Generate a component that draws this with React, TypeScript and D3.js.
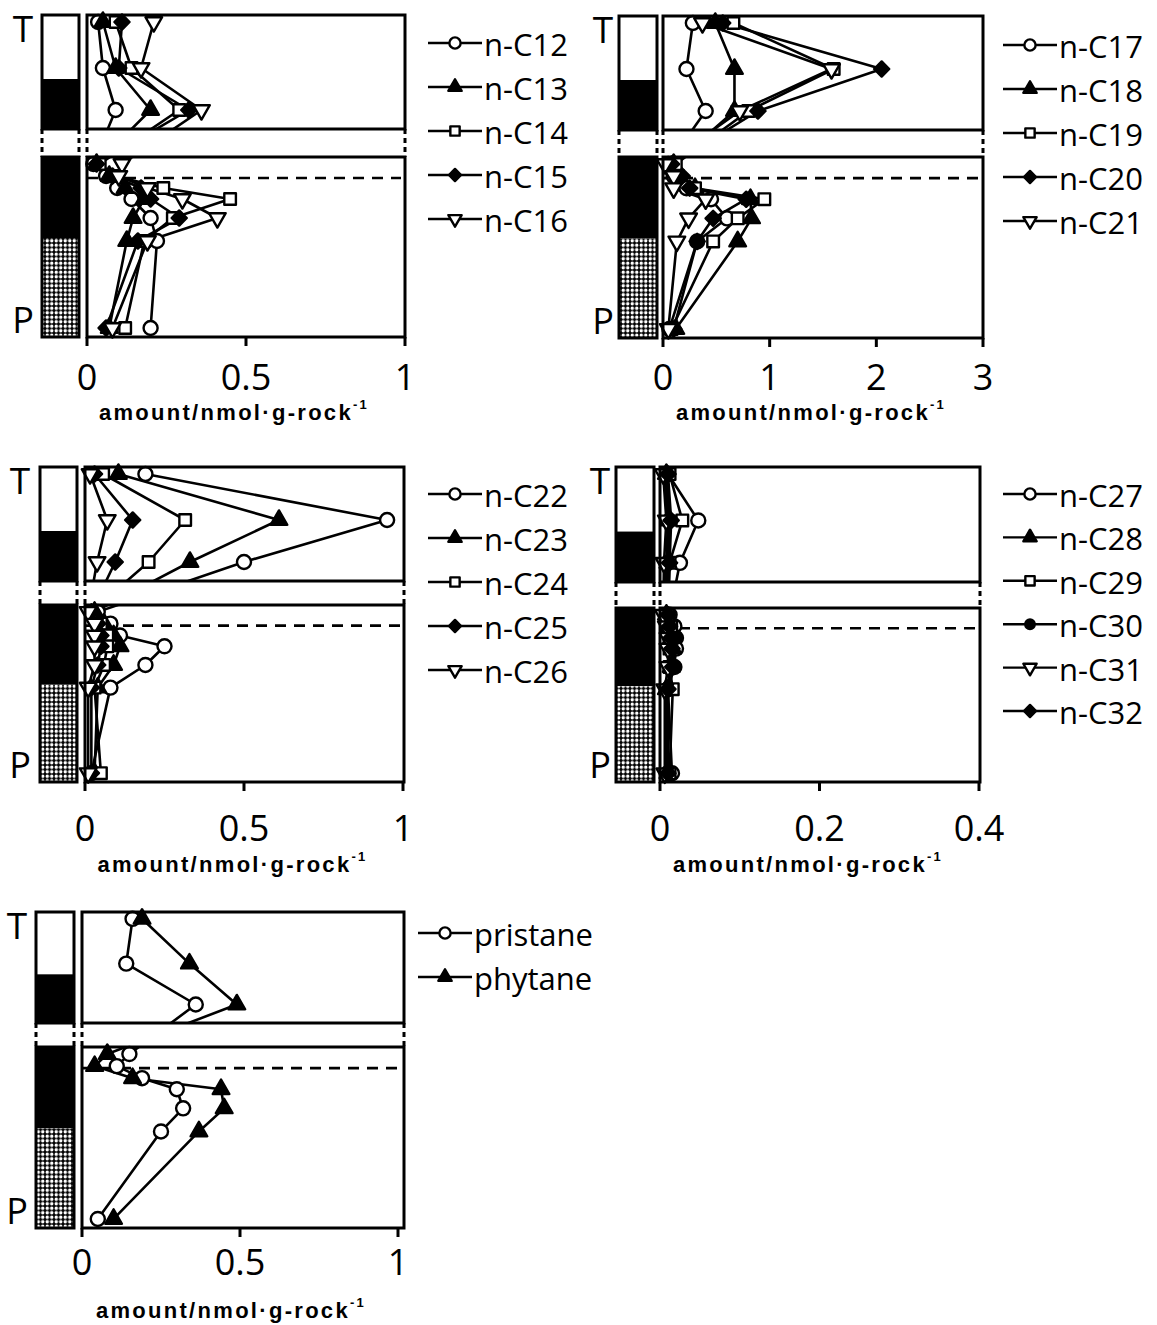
import React from "react";
import * as d3 from "d3";

type Marker = "circle" | "triangle" | "square" | "diamond" | "triangleDown" | "dot";

// Sample positions along the section (upper T interval 0–114, lower P interval 140–320)
const samplePos = [7, 53, 95, 147, 159, 171, 182, 201, 224, 311];
const sectionStops = [0, 114, 140, 320];
const boundaryPos = 161;
const lithUnits: [number, number, string][] = [
  [0, 64, "white"],
  [64, 114, "black"],
  [140, 221, "black"],
  [221, 320, "stipple"],
];

// n-alkane amounts (nmol/g rock), one value per sample position
const nC12 = [0.035, 0.05, 0.09, 0.02, 0.06, 0.095, 0.14, 0.2, 0.22, 0.2];
const nC13 = [0.05, 0.09, 0.2, 0.03, 0.07, 0.12, 0.18, 0.145, 0.125, 0.07];
const nC14 = [0.09, 0.14, 0.29, 0.04, 0.09, 0.24, 0.45, 0.27, 0.18, 0.12];
const nC15 = [0.11, 0.1, 0.32, 0.03, 0.08, 0.17, 0.2, 0.29, 0.16, 0.06];
const nC16 = [0.21, 0.17, 0.36, 0.11, 0.1, 0.19, 0.3, 0.41, 0.19, 0.08];

const nC17 = [0.28, 0.22, 0.4, 0.05, 0.1, 0.22, 0.45, 0.6, 0.32, 0.06];
const nC18 = [0.49, 0.67, 0.67, 0.1, 0.15, 0.3, 0.82, 0.83, 0.7, 0.12];
const nC19 = [0.66, 1.6, 0.8, 0.12, 0.14, 0.3, 0.95, 0.7, 0.47, 0.08];
const nC20 = [0.56, 2.05, 0.89, 0.08, 0.18, 0.25, 0.78, 0.47, 0.32, 0.1];
const nC21 = [0.37, 1.58, 0.72, 0.02, 0.1, 0.1, 0.4, 0.24, 0.13, 0.05];

const nC22 = [0.19, 0.95, 0.5, 0.04, 0.08, 0.11, 0.25, 0.19, 0.08, 0.02];
const nC23 = [0.105, 0.61, 0.33, 0.03, 0.06, 0.09, 0.11, 0.09, 0.04, 0.03];
const nC24 = [0.057, 0.315, 0.2, 0.02, 0.05, 0.07, 0.07, 0.06, 0.03, 0.05];
const nC25 = [0.03, 0.15, 0.095, 0.02, 0.04, 0.05, 0.05, 0.04, 0.02, 0.02];
const nC26 = [0.016, 0.07, 0.038, 0.01, 0.03, 0.03, 0.03, 0.03, 0.01, 0.01];

const nC27 = [0.01, 0.048, 0.025, 0.012, 0.018, 0.02, 0.02, 0.018, 0.01, 0.015];
const nC28 = [0.008, 0.012, 0.01, 0.008, 0.012, 0.015, 0.016, 0.014, 0.008, 0.01];
const nC29 = [0.012, 0.028, 0.012, 0.01, 0.014, 0.012, 0.012, 0.012, 0.016, 0.012];
const nC30 = [0.006, 0.01, 0.008, 0.006, 0.01, 0.02, 0.015, 0.018, 0.008, 0.008];
const nC31 = [0.004, 0.008, 0.005, 0.004, 0.008, 0.01, 0.01, 0.01, 0.006, 0.006];
const nC32 = [0.01, 0.014, 0.012, 0.01, 0.012, 0.014, 0.015, 0.016, 0.01, 0.01];

const pristane = [0.16, 0.14, 0.36, 0.15, 0.11, 0.19, 0.3, 0.32, 0.25, 0.05];
const phytane = [0.19, 0.34, 0.49, 0.08, 0.04, 0.16, 0.44, 0.45, 0.37, 0.1];

// Axis ticks per panel
const ticksUnit = [0, 0.5, 1];
const ticksUnitLabels = ["0", "0.5", "1"];
const ticksThree = [0, 1, 2, 3];
const ticksThreeLabels = ["0", "1", "2", "3"];
const ticksSmall = [0, 0.2, 0.4];
const ticksSmallLabels = ["0", "0.2", "0.4"];

type Series = { name: string; marker: Marker; values: number[] };

const group1: Series[] = [
  { name: "n-C12", marker: "circle", values: nC12 },
  { name: "n-C13", marker: "triangle", values: nC13 },
  { name: "n-C14", marker: "square", values: nC14 },
  { name: "n-C15", marker: "diamond", values: nC15 },
  { name: "n-C16", marker: "triangleDown", values: nC16 },
];
const group2: Series[] = [
  { name: "n-C17", marker: "circle", values: nC17 },
  { name: "n-C18", marker: "triangle", values: nC18 },
  { name: "n-C19", marker: "square", values: nC19 },
  { name: "n-C20", marker: "diamond", values: nC20 },
  { name: "n-C21", marker: "triangleDown", values: nC21 },
];
const group3: Series[] = [
  { name: "n-C22", marker: "circle", values: nC22 },
  { name: "n-C23", marker: "triangle", values: nC23 },
  { name: "n-C24", marker: "square", values: nC24 },
  { name: "n-C25", marker: "diamond", values: nC25 },
  { name: "n-C26", marker: "triangleDown", values: nC26 },
];
const group4: Series[] = [
  { name: "n-C27", marker: "circle", values: nC27 },
  { name: "n-C28", marker: "triangle", values: nC28 },
  { name: "n-C29", marker: "square", values: nC29 },
  { name: "n-C30", marker: "dot", values: nC30 },
  { name: "n-C31", marker: "triangleDown", values: nC31 },
  { name: "n-C32", marker: "diamond", values: nC32 },
];
const group5: Series[] = [
  { name: "pristane", marker: "circle", values: pristane },
  { name: "phytane", marker: "triangle", values: phytane },
];

type Layout = {
  id: string;
  x0: number;
  x1: number;
  boxRight: number;
  lith: [number, number];
  yStops: number[];
  tickBase: number;
  titleBase: number;
  legend: { x: number; y: number; step: number };
  tpX: number;
};

const panels: {
  layout: Layout;
  series: Series[];
  domain: [number, number];
  ticks: number[];
  labels: string[];
}[] = [
  {
    layout: { id: "p1", x0: 87, x1: 405, boxRight: 405, lith: [42, 79], yStops: [15, 129, 157, 337], tickBase: 390, titleBase: 420, legend: { x: 428, y: 43, step: 44 }, tpX: 23 },
    series: group1, domain: [0, 1], ticks: ticksUnit, labels: ticksUnitLabels,
  },
  {
    layout: { id: "p2", x0: 663, x1: 983, boxRight: 983, lith: [619, 657], yStops: [16, 130, 157, 338], tickBase: 390, titleBase: 420, legend: { x: 1003, y: 45, step: 44 }, tpX: 603 },
    series: group2, domain: [0, 3], ticks: ticksThree, labels: ticksThreeLabels,
  },
  {
    layout: { id: "p3", x0: 85, x1: 403, boxRight: 404, lith: [40, 77], yStops: [467, 581, 605, 782], tickBase: 841, titleBase: 872, legend: { x: 428, y: 494, step: 44 }, tpX: 20 },
    series: group3, domain: [0, 1], ticks: ticksUnit, labels: ticksUnitLabels,
  },
  {
    layout: { id: "p4", x0: 660, x1: 979, boxRight: 980, lith: [616, 654], yStops: [467, 582, 608, 782], tickBase: 841, titleBase: 872, legend: { x: 1003, y: 494, step: 43.4 }, tpX: 600 },
    series: group4, domain: [0, 0.4], ticks: ticksSmall, labels: ticksSmallLabels,
  },
  {
    layout: { id: "p5", x0: 82, x1: 398, boxRight: 404, lith: [36, 74], yStops: [912, 1023, 1047, 1228], tickBase: 1275, titleBase: 1318, legend: { x: 418, y: 933, step: 44 }, tpX: 17 },
    series: group5, domain: [0, 1], ticks: ticksUnit, labels: ticksUnitLabels,
  },
];

const FONT = "'Open Sans', 'DejaVu Sans', sans-serif";
const SW = 3;

function MarkerShape({ kind, cx, cy, scale = 1 }: { kind: Marker; cx: number; cy: number; scale?: number }) {
  const open = kind === "circle" || kind === "square" || kind === "triangleDown";
  const k = scale * scale;
  let d = "";
  let rot = 0;
  if (kind === "circle") d = d3.symbol(d3.symbolCircle, 155 * k)()!;
  else if (kind === "dot") d = d3.symbol(d3.symbolCircle, 110 * k)()!;
  else if (kind === "square") d = d3.symbol(d3.symbolSquare, 135 * k)()!;
  else if (kind === "triangle") d = d3.symbol(d3.symbolTriangle, 120 * k)()!;
  else if (kind === "triangleDown") {
    d = d3.symbol(d3.symbolTriangle, 120 * k)()!;
    rot = 180;
  } else if (kind === "diamond") {
    d = d3.symbol(d3.symbolSquare, 115 * k)()!;
    rot = 45;
  }
  return (
    <path
      d={d}
      transform={`translate(${cx},${cy}) rotate(${rot})`}
      fill={open ? "#fff" : "#000"}
      stroke="#000"
      strokeWidth={2.4}
      strokeLinejoin="round"
    />
  );
}

function AxisTitle({ x, y }: { x: number; y: number }) {
  return (
    <text
      x={x}
      y={y}
      textAnchor="middle"
      fontFamily="'Liberation Sans', Arial, sans-serif"
      fontWeight="bold"
      fontSize={22}
      letterSpacing={2.3}
      fill="#000"
    >
      amount/nmol·g-rock
      <tspan fontSize={13} dy={-11}>
        -1
      </tspan>
    </text>
  );
}

function Panel({ layout, series, domain, ticks, labels }: (typeof panels)[number]) {
  const L = layout;
  const x = d3.scaleLinear().domain(domain).range([L.x0, L.x1]);
  const y = d3.scaleLinear().domain(sectionStops).range(L.yStops);
  const line = d3
    .line<number>()
    .x((v) => x(v))
    .y((_, i) => y(samplePos[i]));

  const [uTop, uBot, lTop, lBot] = L.yStops;
  const [lx0, lx1] = L.lith;

  return (
    <g>
      <defs>
        <clipPath id={`${L.id}-up`}>
          <rect x={L.x0} y={uTop} width={L.boxRight - L.x0} height={uBot - uTop} />
        </clipPath>
        <clipPath id={`${L.id}-lo`}>
          <rect x={L.x0} y={lTop} width={L.boxRight - L.x0} height={lBot - lTop} />
        </clipPath>
      </defs>

      {/* lithology column */}
      {lithUnits.map(([a, b, kind], i) => (
        <rect
          key={i}
          x={lx0}
          y={y(a)}
          width={lx1 - lx0}
          height={y(b) - y(a)}
          fill={kind === "white" ? "#fff" : kind === "black" ? "#000" : "url(#stipple)"}
        />
      ))}
      <rect x={lx0} y={uTop} width={lx1 - lx0} height={uBot - uTop} fill="none" stroke="#000" strokeWidth={SW} />
      <rect x={lx0} y={lTop} width={lx1 - lx0} height={lBot - lTop} fill="none" stroke="#000" strokeWidth={SW} />

      {/* section break marks */}
      {[lx0, lx1, L.x0, L.boxRight].map((bx, i) => (
        <line key={i} x1={bx} x2={bx} y1={uBot} y2={lTop} stroke="#000" strokeWidth={SW} strokeDasharray="5 4" />
      ))}

      {/* boundary */}
      <line x1={L.x0} x2={L.boxRight - 4} y1={y(boundaryPos)} y2={y(boundaryPos)} stroke="#000" strokeWidth={2.6} strokeDasharray="11 8" />

      {/* profiles */}
      {series.map((s) => (
        <g key={s.name}>
          <path d={line(s.values)!} fill="none" stroke="#000" strokeWidth={2.6} strokeLinejoin="round" clipPath={`url(#${L.id}-up)`} />
          <path d={line(s.values)!} fill="none" stroke="#000" strokeWidth={2.6} strokeLinejoin="round" clipPath={`url(#${L.id}-lo)`} />
        </g>
      ))}
      {series.map((s) => (
        <g key={s.name + "-m"}>
          {s.values.map((v, i) => (
            <MarkerShape key={i} kind={s.marker} cx={x(v)} cy={y(samplePos[i])} />
          ))}
        </g>
      ))}

      {/* frames */}
      <rect x={L.x0} y={uTop} width={L.boxRight - L.x0} height={uBot - uTop} fill="none" stroke="#000" strokeWidth={SW} />
      <rect x={L.x0} y={lTop} width={L.boxRight - L.x0} height={lBot - lTop} fill="none" stroke="#000" strokeWidth={SW} />

      {/* x axis */}
      {ticks.map((t, i) => (
        <g key={t}>
          <line x1={x(t)} x2={x(t)} y1={lBot} y2={lBot + 9} stroke="#000" strokeWidth={SW} />
          <text x={x(t)} y={L.tickBase} textAnchor="middle" fontFamily={FONT} fontSize={36} fill="#000">
            {labels[i]}
          </text>
        </g>
      ))}
      <AxisTitle x={(L.x0 + L.boxRight) / 2 - 12} y={L.titleBase} />

      {/* T / P labels */}
      <text x={L.tpX} y={uTop + 27} textAnchor="middle" fontFamily={FONT} fontSize={37} fill="#000">
        T
      </text>
      <text x={L.tpX} y={lBot - 4} textAnchor="middle" fontFamily={FONT} fontSize={36} fill="#000">
        P
      </text>

      {/* legend */}
      {series.map((s, i) => {
        const ly = L.legend.y + i * L.legend.step;
        return (
          <g key={s.name + "-lg"}>
            <line x1={L.legend.x} x2={L.legend.x + 54} y1={ly} y2={ly} stroke="#000" strokeWidth={2.4} />
            <MarkerShape kind={s.marker} cx={L.legend.x + 27} cy={ly} scale={0.8} />
            <text x={L.legend.x + 56} y={ly + 13} fontFamily={FONT} fontSize={31} fill="#000">
              {s.name}
            </text>
          </g>
        );
      })}
    </g>
  );
}

export default function App() {
  return (
    <svg width={1157} height={1325} style={{ display: "block", position: "absolute", left: 0, top: 0, background: "#fff" }}>
      <defs>
        <pattern id="stipple" width={4.5} height={4.5} patternUnits="userSpaceOnUse">
          <rect width={4.5} height={4.5} fill="#000" />
          <circle cx={2.25} cy={2.25} r={1.7} fill="#fff" />
        </pattern>
      </defs>
      <rect width={1157} height={1325} fill="#fff" />
      {panels.map((p) => (
        <Panel key={p.layout.id} {...p} />
      ))}
    </svg>
  );
}
